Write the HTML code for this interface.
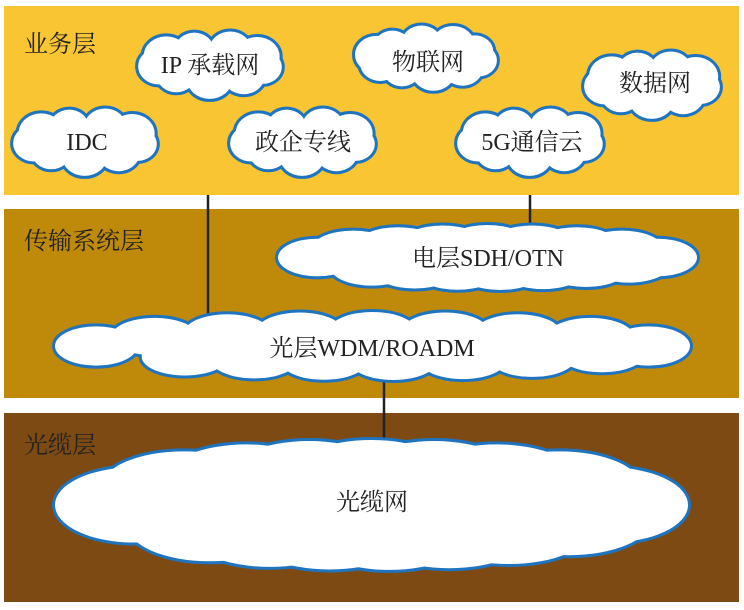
<!DOCTYPE html>
<html><head><meta charset="utf-8"><style>
html,body{margin:0;padding:0;background:#fff;width:744px;height:610px;overflow:hidden}
svg{display:block}
text{font-family:"Liberation Serif","Noto Serif CJK SC","Noto Sans CJK SC",serif;fill:#222}
</style></head><body>
<svg id="s" width="744" height="610" viewBox="0 0 744 610">
<rect x="4" y="6" width="735" height="189" fill="#F9C533"/>
<rect x="4" y="209" width="735" height="189" fill="#BF8909"/>
<rect x="4" y="413" width="735" height="189" fill="#7C4A12"/>
<line x1="208" y1="195" x2="208" y2="320" stroke="#222" stroke-width="2.5"/>
<line x1="530" y1="195" x2="530" y2="228" stroke="#222" stroke-width="2.5"/>
<line x1="384" y1="378" x2="384" y2="450" stroke="#222" stroke-width="2.5"/>
<g id="clouds"></g>
<g font-size="24">
<text x="24" y="52">业务层</text>
<text x="24" y="249">传输系统层</text>
<text x="24" y="453">光缆层</text>
</g>
<g font-size="24" text-anchor="middle">
<text x="210" y="73">IP 承载网</text>
<text x="428" y="70">物联网</text>
<text x="655" y="91">数据网</text>
<text x="87" y="150">IDC</text>
<text x="303" y="150">政企专线</text>
<text x="532" y="150">5G通信云</text>
<text x="488" y="266">电层SDH/OTN</text>
<text x="372" y="356">光层WDM/ROADM</text>
<text x="372" y="510">光缆网</text>
</g>
</svg>
<script>
var boxes=[[137,30,285,98],[355,25,500,90],[583,50,723,118],[12,107,160,175],[229,107,378,175],[456,107,606,175],[278,225,697,290],[55,312,690,380],[55,440,688,570]];
var g=document.getElementById('clouds'),NS='http://www.w3.org/2000/svg';
var outer=[],inner=[];
boxes.forEach(function(b){
 var cx=(b[0]+b[2])/2,cy=(b[1]+b[3])/2,w=(b[2]-b[0])/2,h=(b[3]-b[1])/2;
 var wide=w>200;
 var r=Math.min(h*0.55,45);
 var list=[];
 if(!wide){
  var fx=1.15,rx=w-r*fx,ry=h-r;
  var per=2*Math.PI*Math.sqrt((rx*rx+ry*ry)/2);
  var n=Math.max(8,Math.round(per/(r*1.4)));
  list.push([cx,cy,rx,ry+r*0.15]);
  for(var i=0;i<n;i++){var a=2*Math.PI*i/n+0.2;var rr=r*(0.9+0.15*((i*7)%3)/2);
   list.push([cx+rx*Math.cos(a),cy+ry*Math.sin(a),rr*fx,rr]);}
 } else {
  var fx=2.2,bw=r*fx,rx=w-bw,ry=h-r;
  list.push([cx,cy,rx,ry*0.85]);
  list.push([cx-rx,cy,bw,r*1.05]);list.push([cx+rx,cy,bw,r*1.05]);
  var k=7;
  for(var j=0;j<k;j++){
   var t=-1+2*(j+0.5)/k, x=cx+t*rx*0.92, f=Math.sqrt(Math.max(0,1-t*t*0.85));
   list.push([x,cy-ry*f,bw*1.05,r]);
   var t2=-1+2*(j+0.8)/k; if(t2>1)t2=0.95; var x2=cx+t2*rx*0.88,f2=Math.sqrt(Math.max(0,1-t2*t2*0.85));
   list.push([x2,cy+ry*f2,bw*1.05,r]);
  }
 }
 list.forEach(function(c){outer.push(c);inner.push(c);});
});
function mk(c,fill,stroke,sw){var e=document.createElementNS(NS,'ellipse');
 e.setAttribute('cx',c[0]);e.setAttribute('cy',c[1]);e.setAttribute('rx',c[2]);e.setAttribute('ry',c[3]);
 e.setAttribute('fill',fill);if(stroke){e.setAttribute('stroke',stroke);e.setAttribute('stroke-width',sw);}g.appendChild(e);}
outer.forEach(function(c){mk(c,'#1F74C0','#1F74C0',6);});
inner.forEach(function(c){mk(c,'#fff');});
</script>
</body></html>
